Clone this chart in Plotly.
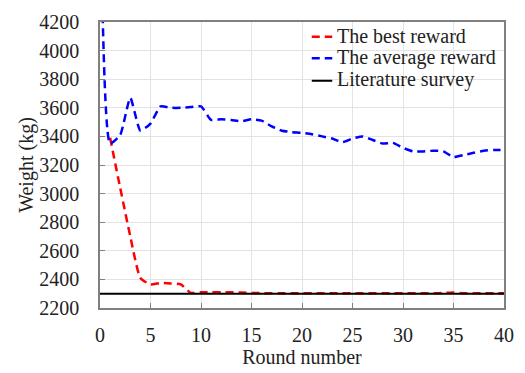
import plotly.graph_objects as go

rounds = list(range(0, 41))
avg_reward = [5430, 3350, 3410, 3670, 3440, 3490, 3610, 3600, 3600, 3605, 3610,
              3515, 3520, 3515, 3505, 3520, 3510, 3470, 3440, 3430, 3425,
              3415, 3400, 3385, 3360, 3385, 3400, 3375, 3350, 3355, 3320,
              3295, 3295, 3300, 3295, 3255, 3270, 3285, 3300, 3305, 3305]
best_rounds = list(range(1, 41))
best_reward = [3390, 3040, 2700, 2410, 2365, 2375, 2372, 2365, 2305, 2310,
               2310, 2310, 2310, 2308, 2305, 2304, 2303, 2303, 2303, 2303,
               2303, 2303, 2303, 2303, 2303, 2303, 2303, 2303, 2303, 2303,
               2303, 2303, 2303, 2305, 2308, 2303, 2303, 2303, 2303, 2303]
lit_rounds = [0, 40]
lit_value = [2300, 2300]

series_names = ["The best reward", "The average reward", "Literature survey"]
series_colors = ["#ff0000", "#0000ff", "#000000"]
series_dash = ["8px,5px", "8px,5px", "solid"]
series_width = [2.5, 2.5, 2]

font_family = "Liberation Serif, Times New Roman, serif"
text_color = "#222222"

fig = go.Figure()
fig.add_trace(go.Scatter(x=best_rounds, y=best_reward, mode="lines", name=series_names[0],
                         line=dict(color=series_colors[0], width=series_width[0], dash=series_dash[0],
                                   shape="spline", smoothing=0.5)))
fig.add_trace(go.Scatter(x=rounds, y=avg_reward, mode="lines", name=series_names[1],
                         line=dict(color=series_colors[1], width=series_width[1], dash=series_dash[1],
                                   shape="spline", smoothing=0.5)))
fig.add_trace(go.Scatter(x=lit_rounds, y=lit_value, mode="lines", name=series_names[2],
                         line=dict(color=series_colors[2], width=series_width[2])))

axis_common = dict(
    showgrid=True, gridcolor="#e3e3e3", gridwidth=1,
    showline=True, linecolor="#808080", linewidth=1.5, mirror=True,
    ticks="inside", ticklen=5, tickcolor="#808080",
    tickfont=dict(family=font_family, size=20, color=text_color),
    zeroline=False,
)

fig.update_xaxes(range=[0, 40], dtick=5, tick0=0, ticklabelstandoff=8,
                 title=dict(text="Round number", font=dict(family=font_family, size=20, color=text_color), standoff=2),
                 **axis_common)
fig.update_yaxes(range=[2200, 4200], dtick=200, tick0=2200, ticklabelstandoff=15,
                 title=dict(text="Weight (kg)", font=dict(family=font_family, size=20, color=text_color), standoff=0),
                 **axis_common)

# custom legend (compact row spacing like the reference)
plot_left, plot_width, plot_bottom, plot_height = 100, 414, 309, 292
def px_x(p):
    return (p - plot_left) / plot_width
def px_y(p):
    return (plot_bottom - p) / plot_height

legend_rows_px = [32, 54, 77]
sym_x0, sym_x1, text_x = 317, 338, 341
for name, color, dash, width, row in zip(series_names, series_colors, series_dash, series_width, legend_rows_px):
    fig.add_shape(type="line", xref="paper", yref="paper",
                  x0=px_x(sym_x0), x1=px_x(sym_x1), y0=px_y(row), y1=px_y(row),
                  line=dict(color=color, width=width, dash=dash))
    fig.add_annotation(xref="paper", yref="paper", x=px_x(text_x), y=px_y(row - 1),
                       xanchor="left", yanchor="middle", showarrow=False, text=name,
                       font=dict(family=font_family, size=20, color=text_color))

fig.update_layout(
    width=525, height=373,
    margin=dict(l=100, r=11, t=17, b=64),
    paper_bgcolor="white", plot_bgcolor="white",
    font=dict(family=font_family, size=20, color=text_color),
    showlegend=False,
)

fig.write_html("out.html")
